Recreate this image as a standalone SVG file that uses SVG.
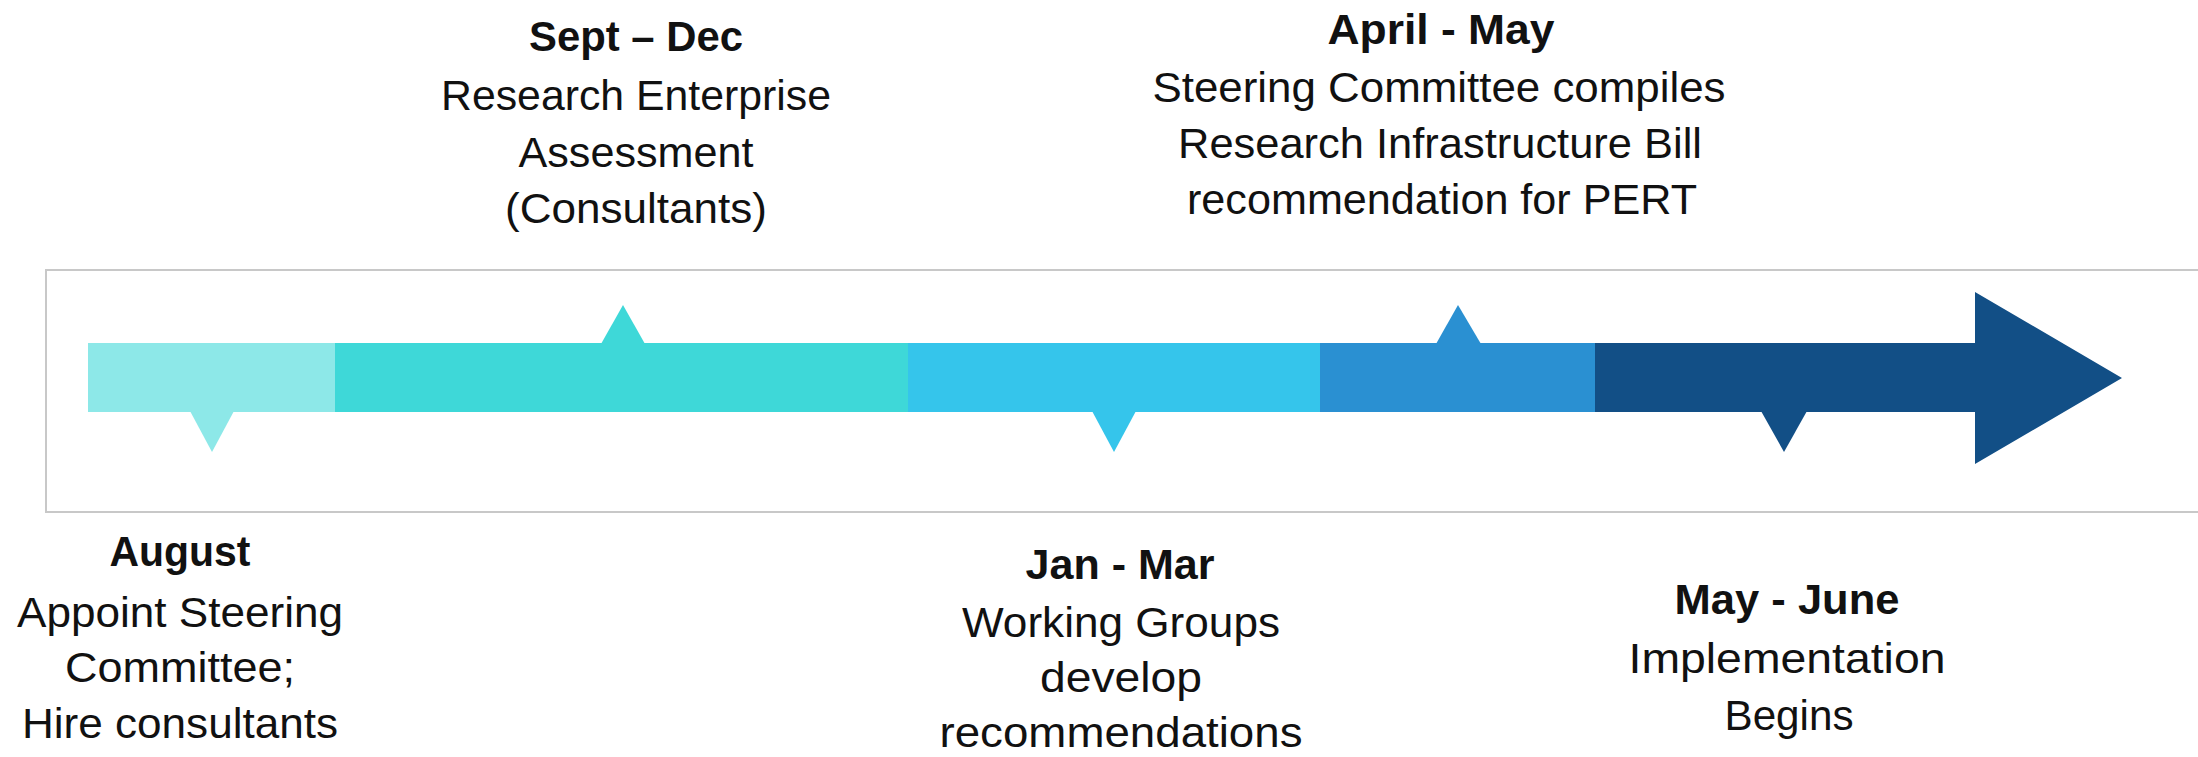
<svg xmlns="http://www.w3.org/2000/svg" width="2198" height="757" viewBox="0 0 2198 757">
  <style>
    .h { font-family: "Liberation Sans", Arial, sans-serif; font-weight: bold; font-size: 42px; fill: #111; text-anchor: middle; }
    .b { font-family: "Liberation Sans", Arial, sans-serif; font-size: 42px; fill: #111; text-anchor: middle; }
    .c1 { fill: #8DE8E8; }
    .c2 { fill: #3ED8D8; }
    .c3 { fill: #35C5EB; }
    .c4 { fill: #2A90D2; }
    .c5 { fill: #124F86; }
  </style>
  <rect width="2198" height="757" fill="#ffffff"/>
  <rect id="frame" x="46" y="270" width="2170" height="242" fill="none" stroke="#C8C8C8" stroke-width="2"/>

  <g id="connectors">
    <g id="timeline">
      <rect class="c1" x="88" y="343" width="248" height="69"/>
      <rect class="c2" x="335" y="343" width="574" height="69"/>
      <rect class="c3" x="908" y="343" width="413" height="69"/>
      <rect class="c4" x="1320" y="343" width="276" height="69"/>
      <polygon class="c5" points="1595,343 1975,343 1975,292 2122,378 1975,464 1975,412 1595,412"/>
    </g>
  </g>

  <g id="august">
    <polygon class="c1" points="190,411 234,411 212,452"/>
    <text class="h" x="180" y="566" textLength="141" lengthAdjust="spacingAndGlyphs">August</text>
    <text class="b" x="180" y="627" textLength="326" lengthAdjust="spacingAndGlyphs">Appoint Steering</text>
    <text class="b" x="180" y="682" textLength="230" lengthAdjust="spacingAndGlyphs">Committee;</text>
    <text class="b" x="180" y="738" textLength="316" lengthAdjust="spacingAndGlyphs">Hire consultants</text>
  </g>

  <g id="sept-dec">
    <polygon class="c2" points="601,344 645,344 623,305"/>
    <text class="h" x="636" y="51" textLength="214" lengthAdjust="spacingAndGlyphs">Sept – Dec</text>
    <text class="b" x="636" y="110" textLength="390" lengthAdjust="spacingAndGlyphs">Research Enterprise</text>
    <text class="b" x="636" y="167" textLength="235" lengthAdjust="spacingAndGlyphs">Assessment</text>
    <text class="b" x="636" y="223" textLength="262" lengthAdjust="spacingAndGlyphs">(Consultants)</text>
  </g>

  <g id="jan-mar">
    <polygon class="c3" points="1092,411 1136,411 1114,452"/>
    <text class="h" x="1120" y="579" textLength="189" lengthAdjust="spacingAndGlyphs">Jan - Mar</text>
    <text class="b" x="1121" y="637" textLength="318" lengthAdjust="spacingAndGlyphs">Working Groups</text>
    <text class="b" x="1121" y="692" textLength="162" lengthAdjust="spacingAndGlyphs">develop</text>
    <text class="b" x="1121" y="747" textLength="363" lengthAdjust="spacingAndGlyphs">recommendations</text>
  </g>

  <g id="april-may">
    <polygon class="c4" points="1436,344 1481,344 1458,305"/>
    <text class="h" x="1441" y="44" textLength="227" lengthAdjust="spacingAndGlyphs">April - May</text>
    <text class="b" x="1439" y="102" textLength="573" lengthAdjust="spacingAndGlyphs">Steering Committee compiles</text>
    <text class="b" x="1440" y="158" textLength="524" lengthAdjust="spacingAndGlyphs">Research Infrastructure Bill</text>
    <text class="b" x="1442" y="214" textLength="510" lengthAdjust="spacingAndGlyphs">recommendation for PERT</text>
  </g>

  <g id="may-june">
    <polygon class="c5" points="1761,411 1807,411 1784,452"/>
    <text class="h" x="1787" y="614" textLength="225" lengthAdjust="spacingAndGlyphs">May - June</text>
    <text class="b" x="1787" y="673" textLength="317" lengthAdjust="spacingAndGlyphs">Implementation</text>
    <text class="b" x="1789" y="730" textLength="129" lengthAdjust="spacingAndGlyphs">Begins</text>
  </g>
</svg>
